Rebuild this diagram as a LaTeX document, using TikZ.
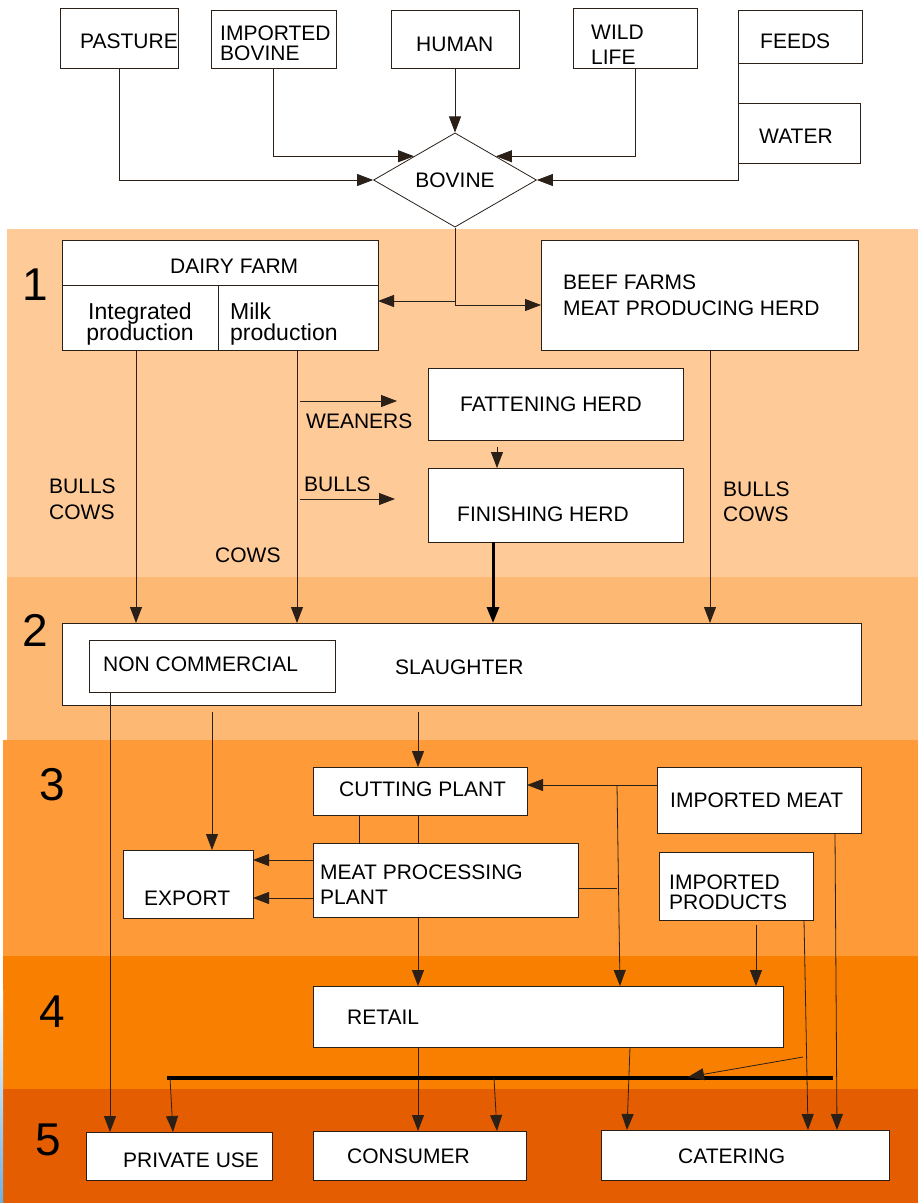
\documentclass[tikz,border=0pt]{standalone}
\usepackage{fontspec}
\setmainfont{Liberation Sans}
\usetikzlibrary{arrows.meta,shapes.geometric}

\definecolor{bandA}{HTML}{FECA98}
\definecolor{bandB}{HTML}{FDB874}
\definecolor{bandC}{HTML}{FE9A37}
\definecolor{bandD}{HTML}{F97F00}
\definecolor{bandE}{HTML}{E45D00}
\definecolor{edgeblue}{HTML}{6DB1E2}
\definecolor{linecol}{HTML}{2A2018}

\tikzset{
  box/.style = {draw=linecol, fill=white, line width=0.8pt, inner sep=0pt, outer sep=0pt, anchor=north west},
  txt/.style = {anchor=west, inner sep=0pt, align=left, font=\fontsize{21}{25}\selectfont},
  small/.style = {font=\fontsize{23}{21.5}\selectfont},
  num/.style = {inner sep=0pt, font=\fontsize{46}{50}\selectfont},
  ln/.style = {draw=linecol, line width=0.8pt},
  arr/.style = {ln, -{Triangle[length=16pt,width=12pt]}},
  heavy/.style = {draw=black, line width=3pt, -{Triangle[length=16pt,width=12pt]}},
  bus/.style = {draw=black, line width=4.5pt}
}

\begin{document}
\begin{tikzpicture}[x=1pt, y=-1pt]
\useasboundingbox (0,0) rectangle (918,1203);

% stage bands
\fill[bandA] (7,229) rectangle (918,577);
\fill[bandB] (7,577) rectangle (918,740);
\fill[bandC] (3,740) rectangle (918,956);
\fill[bandD] (3,956) rectangle (918,1089);
\fill[bandE] (3,1089) rectangle (918,1203);
\shade[top color=white, bottom color=edgeblue] (0,990) rectangle (3,1203);

\node[num] (n1) at (35,285) {1};
\node[num] (n2) at (35,630) {2};
\node[num] (n3) at (52,785) {3};
\node[num] (n4) at (52,1012) {4};
\node[num] (n5) at (48,1140) {5};

% sources
\node[box, minimum width=118pt, minimum height=60pt] (pasture) at (60,8) {};
\node[box, minimum width=125pt, minimum height=58pt] (impbov) at (211,10) {};
\node[box, minimum width=128pt, minimum height=58pt] (human) at (391,10) {};
\node[box, minimum width=124pt, minimum height=60pt] (wild) at (573,8) {};
\node[box, minimum width=124pt, minimum height=53pt] (feeds) at (738,10) {};
\node[box, minimum width=122pt, minimum height=60pt] (water) at (738,103) {};
\node[diamond, draw=linecol, fill=white, line width=0.8pt, inner sep=0pt, minimum width=163pt, minimum height=93pt, font=\fontsize{21}{25}\selectfont] (bovine) at (455,180) {BOVINE};

% farms
\node[box, minimum width=316pt, minimum height=110pt] (dairy) at (62,240) {};
\node[box, minimum width=317pt, minimum height=110pt] (beef) at (541,240) {};
\node[box, minimum width=255pt, minimum height=72pt] (fatten) at (428,368) {};
\node[box, minimum width=255pt, minimum height=74pt] (finish) at (428,468) {};
\draw[ln] (dairy.west |- 0,285) -- (dairy.east |- 0,285);
\draw[ln] (218,285) -- (dairy.south -| 218,0);

% slaughter and processing
\node[box, minimum width=799pt, minimum height=82pt] (slaughter) at (62,623) {};
\node[box, minimum width=246pt, minimum height=52pt] (noncom) at (89,640) {};
\node[box, minimum width=214pt, minimum height=48pt] (cutting) at (313,767) {};
\node[box, minimum width=204pt, minimum height=66pt] (implmeat) at (657,767) {};
\node[box, minimum width=265pt, minimum height=74pt] (meatproc) at (313,843) {};
\node[box, minimum width=130pt, minimum height=68pt] (export) at (123,850) {};
\node[box, minimum width=154pt, minimum height=68pt] (impprod) at (659,852) {};
\node[box, minimum width=470pt, minimum height=61pt] (retail) at (313,986) {};

% end use
\node[box, minimum width=186pt, minimum height=48pt] (private) at (86,1132) {};
\node[box, minimum width=213pt, minimum height=49pt] (consumer) at (313,1131) {};
\node[box, minimum width=288pt, minimum height=50pt] (catering) at (601,1130) {};

% texts
\node[txt] (t-pasture) at (80,41) {PASTURE};
\node[txt] (t-impbov) at (220,43) {IMPORTED\\[-5pt]BOVINE};
\node[txt] (t-human) at (416,44) {HUMAN};
\node[txt] (t-wild) at (591,45) {WILD\\LIFE};
\node[txt] (t-feeds) at (760,41) {FEEDS};
\node[txt] (t-water) at (759,136) {WATER};
\node[txt] (t-dairy) at (170,266) {DAIRY FARM};
\node[txt, small, anchor=center, align=center] (t-integ) at (140,324) {Integrated\\production};
\node[txt, small] (t-milk) at (230,324) {Milk\\production};
\node[txt] (t-beef) at (563,295) {BEEF FARMS\\[1pt]MEAT PRODUCING HERD};
\node[txt] (t-fatten) at (460,404) {FATTENING HERD};
\node[txt] (t-finish) at (457,514) {FINISHING HERD};
\node[txt] (t-weaners) at (306,421) {WEANERS};
\node[txt] (t-bulls) at (304,484) {BULLS};
\node[txt] (t-bcleft) at (49,499) {BULLS\\[1pt]COWS};
\node[txt] (t-cows) at (215,555) {COWS};
\node[txt] (t-bcright) at (723,502) {BULLS\\COWS};
\node[txt] (t-noncom) at (103,664) {NON COMMERCIAL};
\node[txt] (t-slaughter) at (395,667) {SLAUGHTER};
\node[txt] (t-cutting) at (339,789) {CUTTING PLANT};
\node[txt] (t-implmeat) at (670,800) {IMPORTED MEAT};
\node[txt] (t-meatproc) at (320,885) {MEAT PROCESSING\\PLANT};
\node[txt] (t-export) at (144,898) {EXPORT};
\node[txt] (t-impprod) at (669,892) {IMPORTED\\[-5pt]PRODUCTS};
\node[txt] (t-retail) at (347,1017) {RETAIL};
\node[txt] (t-private) at (123,1160) {PRIVATE USE};
\node[txt] (t-consumer) at (347,1156) {CONSUMER};
\node[txt] (t-catering) at (678,1156) {CATERING};

% into bovine
\draw[arr] (pasture.south) |- (bovine.west);
\draw[arr] (impbov.south) |- (bovine.north west);
\draw[arr] (human.south) -- (bovine.north);
\draw[arr] (wild.south) |- (bovine.north east);
\draw[arr] (feeds.south west) |- (bovine.east);

% bovine to farms
\draw[arr] (bovine.south) |- ([yshift=-10pt]beef.west);
\draw[arr] (bovine.south |- 0,301) -- (dairy.east |- 0,301);

% farms to slaughter
\coordinate (jweaners) at (300,401);
\coordinate (jbulls) at (300,499);
\draw[arr] (jweaners) -- (jweaners -| 397,0);
\draw[arr] (jbulls) -- (jbulls -| 395,0);
\draw[arr] (fatten.south -| 497,0) ++(0,7) -- (497,0 |- finish.north);
\draw[arr] (136,0 |- dairy.south) -- (136,0 |- slaughter.north);
\draw[arr] (297,0 |- dairy.south) -- (297,0 |- slaughter.north);
\draw[heavy] (493,0 |- finish.south) -- (493,0 |- slaughter.north);
\draw[arr] (710,0 |- beef.south) -- (710,0 |- slaughter.north);

% slaughter onwards
\draw[arr] (110,0 |- noncom.south) -- (110,0 |- private.north);
\draw[arr, shorten <=7pt] (212,0 |- slaughter.south) -- (212,0 |- export.north);
\draw[arr, shorten <=7pt] (418,0 |- slaughter.south) -- (418,0 |- cutting.north);
\coordinate (jmeat) at (617,785);
\draw[arr] (implmeat.west |- jmeat) -- (cutting.east |- jmeat);
\draw[arr] (jmeat) -- (620,0 |- retail.north);
\draw[ln] (meatproc.east |- 0,888) -- (jmeat |- 0,888);
\draw[ln] (359,0 |- cutting.south) -- (359,0 |- meatproc.north);
\draw[ln] (418,0 |- cutting.south) -- (418,0 |- meatproc.north);
\draw[arr] (meatproc.west |- 0,860) -- (export.east |- 0,860);
\draw[arr] (meatproc.west |- 0,898) -- (export.east |- 0,898);
\draw[arr] (418,0 |- meatproc.south) -- (418,0 |- retail.north);
\draw[arr, shorten <=5pt] (756,0 |- impprod.south) -- (756,0 |- retail.north);
\draw[arr] (804,0 |- impprod.south) -- (808,0 |- catering.north);
\draw[arr] (835,0 |- implmeat.south) -- (837,0 |- catering.north);

% retail to end use
\draw[arr] (418,0 |- retail.south) -- (418,0 |- consumer.north);
\draw[arr] (630,0 |- retail.south) -- (627,0 |- catering.north);
\coordinate (busL) at (167,1078);
\coordinate (busR) at (833,1078);
\coordinate (tap) at (803,1057);
\draw[bus] (busL) -- (busR);
\draw[arr] (tap) -- (688,1077);
\draw[arr] (170,1078) -- (173,0 |- private.north);
\draw[arr] (494,1078) -- (497,0 |- consumer.north);
\end{tikzpicture}
\end{document}
